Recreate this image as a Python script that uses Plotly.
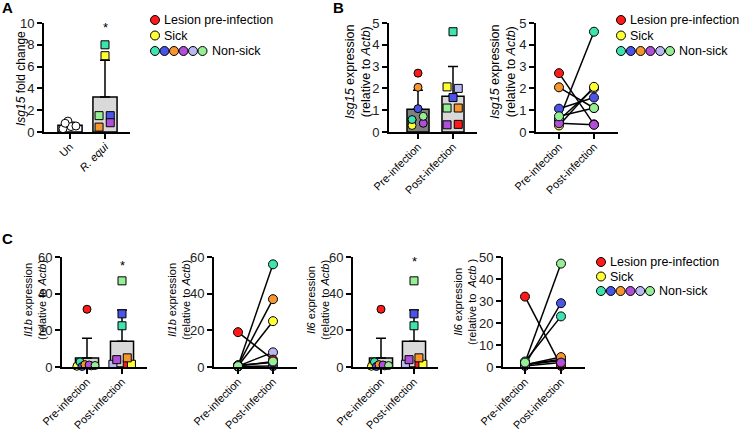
import numpy as np
import plotly.graph_objects as go

W, H = 740, 432
FONT = "Liberation Sans, Arial, sans-serif"

# ---------------- data ----------------
subjects = ["lavender", "red", "yellow", "teal", "blue", "orange", "purple", "lgreen"]
palette = {"red": "#FF1A1A", "yellow": "#FFFF33", "teal": "#3FE3B0", "blue": "#4A55E8",
           "orange": "#F7962F", "purple": "#B04FD8", "lavender": "#B8B8F2",
           "lgreen": "#96EE96", "white": "#FFFFFF"}

# Panel A : Isg15 fold change
a_categories = ["Un", "<i>R. equi</i>"]
a_un = [1.0, 0.3, 0.5, 0.55, 0.8]
a_requi_subjects = ["teal", "yellow", "lgreen", "orange", "blue", "purple"]
a_requi = [8.0, 7.0, 1.5, 0.45, 1.5, 0.85]

# Panel B : Isg15 expression (relative to Actb), order = subjects
b_categories = ["Pre-infection", "Post-infection"]
b_pre = [0.55, 2.7, 0.3, 0.57, 1.07, 2.05, 0.4, 0.72]
b_post = [2.0, 0.35, 2.07, 4.6, 1.58, 1.1, 0.33, 1.1]

# Panel C, order = subjects
c_il1b_bar_pre = [0.6, 31.5, 0.4, 2.8, 0.3, 1.3, 1.1, 0.8]
c_il1b_bar_post = [1.5, 1.5, 1.5, 22.5, 29, 5, 4, 47]
c_il1b_pair_pre = [0.5, 19, 0.5, 0.5, 0.3, 0.8, 1.0, 0.5]
c_il1b_pair_post = [8, 4, 25, 56, 0.5, 37, 2.5, 3]
c_il6_bar_pre = [0.6, 31.5, 0.4, 2.8, 0.3, 1.3, 1.1, 0.8]
c_il6_bar_post = [1.5, 1.5, 1.5, 22.5, 29, 5, 4, 47]
c_il6_pair_pre = [1, 32, 1, 2.5, 1, 1, 0.5, 2]
c_il6_pair_post = [3, 0.5, 3.5, 23, 29, 4.5, 2, 47]

# ---------------- style (point jitter, in category units) ----------------
a_un_jit = [-0.06, -0.2, 0.03, 0.17, -0.14]
a_requi_jit = [0, 0, -0.17, -0.17, 0.15, 0.15]
b_pre_jit = [-0.17, 0, -0.17, -0.17, 0, 0, 0.15, 0.15]
b_post_jit = [0.15, 0.15, -0.17, 0, 0, 0.15, -0.17, -0.17]
c_pre_jit = [0.12, 0, -0.29, -0.2, -0.14, -0.06, 0.06, 0.23]
c_post_jit = [-0.26, 0.15, 0.27, 0, 0, 0.15, -0.15, 0]

fig = go.Figure()


def xcfg(l, r, c0, c1, anchor, ticktext):
    u = c1 - c0
    return dict(domain=[l / W, r / W], range=[(l - c0) / u, (r - c0) / u], anchor=anchor,
                tickmode="array", tickvals=[0, 1], ticktext=ticktext, tickangle=-45,
                showline=True, linewidth=2, linecolor="black", ticks="outside", ticklen=5,
                tickwidth=2, tickcolor="black", showgrid=False, zeroline=False, automargin=False,
                ticklabelstandoff=-3,
                tickfont=dict(size=11, color="black", family=FONT), fixedrange=True)


def ycfg(top, bot, rmax, dtick, anchor):
    return dict(domain=[1 - bot / H, 1 - top / H], range=[0, rmax], dtick=dtick, anchor=anchor,
                showline=True, linewidth=2, linecolor="black", ticks="outside", ticklen=5,
                tickwidth=2, tickcolor="black", showgrid=False, zeroline=False, automargin=False,
                tickfont=dict(size=13, color="#222", family=FONT), fixedrange=True)


def add_bar(ax, groups, width):
    xs, ys, sds, fills = [], [], [], []
    for i, g in enumerate(groups):
        v = np.array(g["vals"], float)
        xs.append(i); ys.append(v.mean()); sds.append(v.std(ddof=1)); fills.append(g["fill"])
    fig.add_trace(go.Bar(x=xs, y=ys, width=width, xaxis="x" + ax, yaxis="y" + ax,
                         marker=dict(color=fills, line=dict(color="black", width=1.5)),
                         error_y=dict(type="data", symmetric=False, array=sds,
                                      arrayminus=[0] * len(sds), color="black",
                                      thickness=1.5, width=5)))
    for i, g in enumerate(groups):
        fig.add_trace(go.Scatter(x=[i + j for j in g["jit"]], y=g["vals"], mode="markers",
                                 xaxis="x" + ax, yaxis="y" + ax, cliponaxis=False,
                                 marker=dict(symbol=g["symbol"], size=8,
                                             color=[palette[c] for c in g["cols"]],
                                             line=dict(color="black", width=1))))


def add_pairs(ax, pre, post):
    for k in range(len(pre)):
        fig.add_trace(go.Scatter(x=[0, 1], y=[pre[k], post[k]], mode="lines",
                                 xaxis="x" + ax, yaxis="y" + ax, cliponaxis=False,
                                 line=dict(color="black", width=1.5)))
    for i, vals in enumerate([pre, post]):
        fig.add_trace(go.Scatter(x=[i] * len(vals), y=vals, mode="markers",
                                 xaxis="x" + ax, yaxis="y" + ax, cliponaxis=False,
                                 marker=dict(symbol="circle", size=9,
                                             color=[palette[c] for c in subjects],
                                             line=dict(color="black", width=1))))


# Panel A
add_bar("", [dict(vals=a_un, cols=["white"] * len(a_un), jit=a_un_jit, symbol="circle", fill="#FFFFFF"),
             dict(vals=a_requi, cols=a_requi_subjects, jit=a_requi_jit, symbol="square", fill="#D9D9D9")],
        0.69)
# Panel B
add_bar("2", [dict(vals=b_pre, cols=subjects, jit=b_pre_jit, symbol="circle", fill="#808080"),
              dict(vals=b_post, cols=subjects, jit=b_post_jit, symbol="square", fill="#D9D9D9")], 0.63)
add_pairs("3", b_pre, b_post)
# Panel C
add_bar("4", [dict(vals=c_il1b_bar_pre, cols=subjects, jit=c_pre_jit, symbol="circle", fill="#D9D9D9"),
              dict(vals=c_il1b_bar_post, cols=subjects, jit=c_post_jit, symbol="square", fill="#D9D9D9")], 0.66)
add_pairs("5", c_il1b_pair_pre, c_il1b_pair_post)
add_bar("6", [dict(vals=c_il6_bar_pre, cols=subjects, jit=c_pre_jit, symbol="circle", fill="#D9D9D9"),
              dict(vals=c_il6_bar_post, cols=subjects, jit=c_post_jit, symbol="square", fill="#D9D9D9")], 0.7)
add_pairs("7", c_il6_pair_pre, c_il6_pair_post)

layout = dict(template="none", width=W, height=H,
              margin=dict(l=0, r=0, t=0, b=0, pad=0, autoexpand=False), showlegend=False,
              paper_bgcolor="white", plot_bgcolor="rgba(0,0,0,0)",
              font=dict(family=FONT, color="black"))
layout["xaxis"] = xcfg(44, 130, 70, 105, "y", a_categories)
layout["yaxis"] = ycfg(23, 132, 10, 2, "x")
layout["xaxis2"] = xcfg(389, 477, 418, 453, "y2", b_categories)
layout["yaxis2"] = ycfg(23, 132, 5, 1, "x2")
layout["xaxis3"] = xcfg(536, 618, 559, 594, "y3", b_categories)
layout["yaxis3"] = ycfg(23, 132, 5, 1, "x3")
layout["xaxis4"] = xcfg(62, 147, 87, 122, "y4", b_categories)
layout["yaxis4"] = ycfg(257, 367, 60, 20, "x4")
layout["xaxis5"] = xcfg(214, 297, 238, 273, "y5", b_categories)
layout["yaxis5"] = ycfg(257, 367, 60, 20, "x5")
layout["xaxis6"] = xcfg(353, 438, 381, 414, "y6", b_categories)
layout["yaxis6"] = ycfg(257, 367, 60, 20, "x6")
layout["xaxis7"] = xcfg(503, 585, 525, 561, "y7", b_categories)
layout["yaxis7"] = ycfg(257, 367, 50, 10, "x7")
fig.update_layout(**layout)

ann = []
def ptxt(x, y, text, size=12.5, angle=0, xanchor="center", bold=False):
    ann.append(dict(x=x / W, y=1 - y / H, xref="paper", yref="paper", text=("<b>%s</b>" % text) if bold else text,
                    showarrow=False, textangle=angle, xanchor=xanchor, yanchor="middle",
                    font=dict(size=size, family=FONT, color="black")))

# panel letters
ptxt(7, 8, "A", 15, bold=True)
ptxt(338, 8, "B", 15, bold=True)
ptxt(7, 238, "C", 15, bold=True)
# y titles
ptxt(21, 79, "<i>Isg15</i> fold change", 12, -90)
ptxt(358, 72, "<i>Isg15</i> expression<br>(relative to <i>Actb</i>)", 12.5, -90)
ptxt(503, 72, "<i>Isg15</i> expression<br>(relative to <i>Actb</i>)", 12.5, -90)
ptxt(35, 300, "<i>Il1b</i> expression<br>(relative to <i>Actb</i>)", 11, -90)
ptxt(179, 300, "<i>Il1b</i> expression<br>(relative to <i>Actb</i>)", 11, -90)
ptxt(318, 300, "<i>Il6</i> expression<br>(relative to <i>Actb</i>)", 11, -90)
ptxt(465, 302, "<i>Il6</i> expression<br>(relative to  <i>Actb</i> )", 11, -90)

# significance marks
def sig(ax, x, y, text, size=13):
    ann.append(dict(x=x, y=y, xref="x" + ax, yref="y" + ax, text=text, showarrow=False,
                    font=dict(size=size, family=FONT, color="black"), yanchor="middle"))
sig("", 1, 9.6, "*")
sig("2", 1, 5.1, "ns", 12.5)
sig("4", 1, 55.5, "*")
sig("5", 1, 61.5, "*")
sig("6", 1, 57.5, "*")
sig("7", 1, 52, "*")

# legends
shapes = []
legend_nonsick = ["teal", "blue", "orange", "purple", "lavender", "lgreen"]
def legend(x0, y0, dy, step):
    rows = [(["red"], "Lesion pre-infection"), (["yellow"], "Sick"), (legend_nonsick, "Non-sick")]
    for r, (cols, label) in enumerate(rows):
        y = y0 + r * dy
        for i, c in enumerate(cols):
            cx = x0 + i * step
            shapes.append(dict(type="circle", xref="paper", yref="paper", xsizemode="pixel",
                               ysizemode="pixel", xanchor=cx / W, yanchor=1 - y / H,
                               x0=-4.5, x1=4.5, y0=-4.5, y1=4.5, fillcolor=palette[c],
                               line=dict(color="black", width=1)))
        ptxt(x0 + (len(cols) - 1) * step + 7, y, label, 12.5, xanchor="left")

legend(155, 20, 15.5, 9.5)
legend(621, 20, 15.5, 9.8)
legend(601, 262, 14.5, 9.8)

fig.update_layout(annotations=ann, shapes=shapes)
fig.write_html("out.html", config={"displayModeBar": False, "staticPlot": True},
               post_script="document.body.style.margin='0px';document.body.style.padding='0px';"
                           "document.body.style.overflow='hidden';")
